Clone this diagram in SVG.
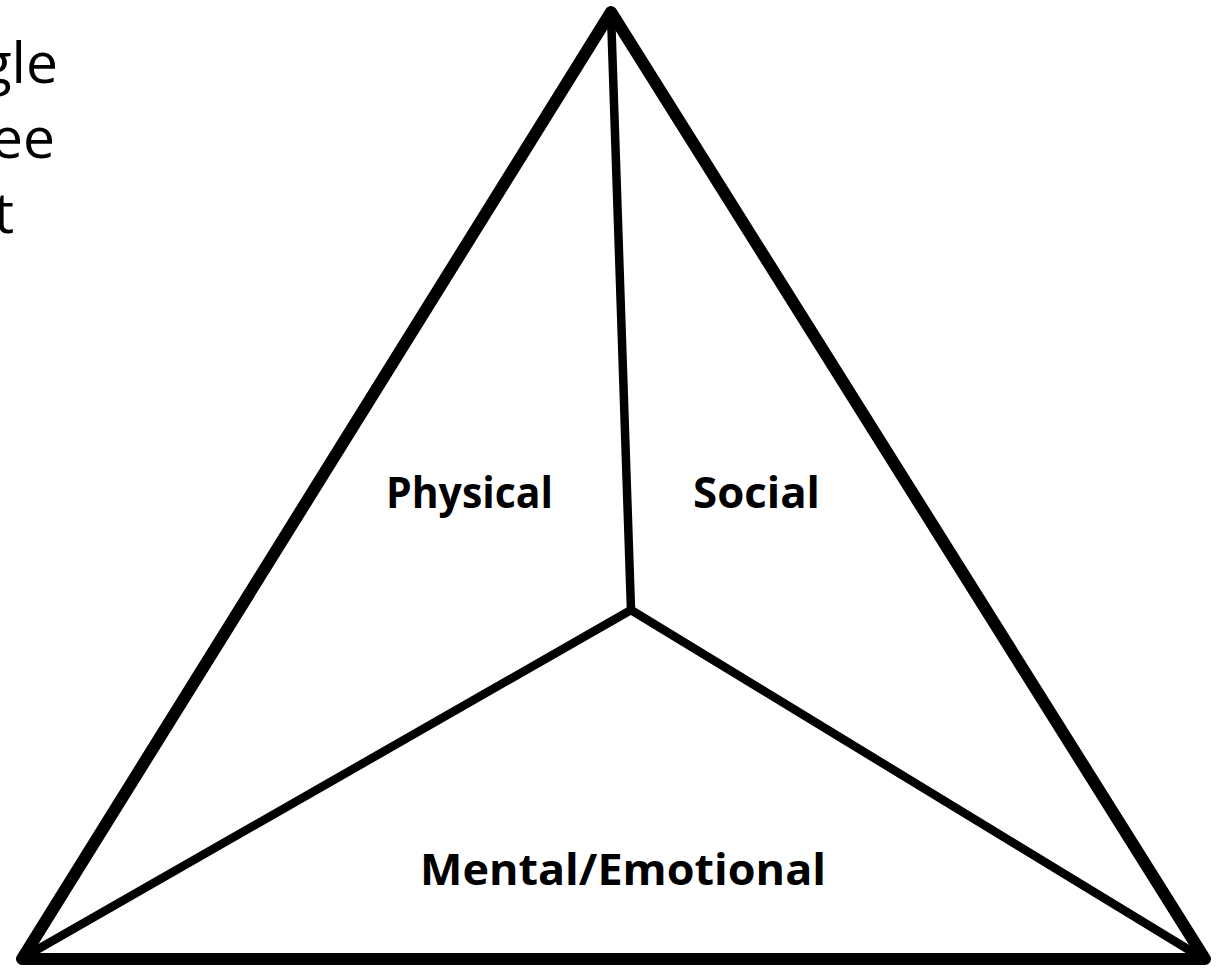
<svg xmlns="http://www.w3.org/2000/svg" width="1221" height="968" viewBox="0 0 1221 968">
<style>
.side{font-family:"Open Sans","Liberation Sans",sans-serif;font-size:57px;fill:#000}
.lbl{font-family:"Open Sans","Liberation Sans",sans-serif;font-size:43px;font-weight:bold;fill:#000}
.outer{fill:none;stroke:#000;stroke-width:12;stroke-linejoin:round;stroke-linecap:round}
.inner{fill:none;stroke:#000;stroke-width:8.5;stroke-linecap:round}
</style>
<rect width="1221" height="968" fill="#fff"/>
<g id="side-text">
<text class="side" x="58" y="83" text-anchor="end">gle</text>
<text class="side" x="55" y="158" text-anchor="end">ee</text>
<text class="side" x="14" y="233" text-anchor="end">t</text>
</g>
<g id="connectors">
<polygon class="outer" points="611,12 22,959 1205,959"/>
<line class="inner" x1="611" y1="14" x2="631" y2="610"/>
<line class="inner" x1="631" y1="610" x2="26" y2="956"/>
<line class="inner" x1="631" y1="610" x2="1199" y2="956"/>
</g>
<g id="physical"><text class="lbl" x="386" y="508" textLength="167" lengthAdjust="spacingAndGlyphs">Physical</text></g>
<g id="social"><text class="lbl" x="693" y="508" textLength="127" lengthAdjust="spacingAndGlyphs">Social</text></g>
<g id="mental"><text class="lbl" x="420" y="885" textLength="406" lengthAdjust="spacingAndGlyphs">Mental/Emotional</text></g>
</svg>
